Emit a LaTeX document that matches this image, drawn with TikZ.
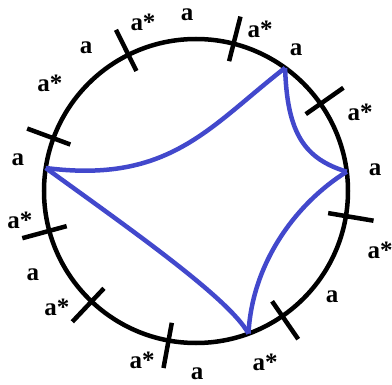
\documentclass[tikz,border=0pt]{standalone}
\usepackage{fontspec}
\setmainfont{Liberation Serif}
\usepackage{xcolor}
\definecolor{arcblue}{RGB}{66,72,204}
\usetikzlibrary{calc}

\begin{document}
\begin{tikzpicture}[
  x=1pt, y=1pt,
  font=\bfseries\fontsize{25}{25}\selectfont,
  rim/.style={draw=black, line width=4.5pt},
  tick/.style={draw=black, line width=4.5pt},
  arc/.style={draw=arcblue, line width=4.5pt, line join=miter},
  lab/.style={inner sep=0pt, anchor=center}
]
\useasboundingbox (0,0) rectangle (392,384);
\coordinate (O) at (196,193);

% circle with cut marks
\draw[rim] (O) circle (152);
\foreach \t in {350.5,35,75.7,116.4,159.7,195.2,226.6,259.6,304.6}
  \draw[tick] ($(O)+(\t:134)$) -- ($(O)+(\t:180)$);

% corners of the blue region
\coordinate (A) at ($(O)+(54.1:152)$);
\coordinate (B) at ($(O)+(171.3:152)$);
\coordinate (C) at ($(O)+(7.3:152)$);
\coordinate (D) at ($(O)+(-69.8:152)$);

\draw[arc] (B) .. controls (170,200) and (210,258) .. (A);
\draw[arc] (A) .. controls (287,250) and (305,225) .. (C);
\draw[arc] (C) .. controls (295,180) and (252,120) .. (D);
\draw[arc] (B) .. controls (130,155) and (230,85) .. (D);

% labels
\foreach \p/\txt [count=\i] in {
  {143,362}/a*, {187,369}/a, {260,355}/a*, {86,336}/a, {50,301}/a*,
  {296,334}/a, {360,272}/a*, {18,224}/a, {375,214}/a, {20,164}/a*,
  {33,109}/a, {57,77}/a*, {142,24}/a*, {197,10}/a, {265,22}/a*,
  {332,87}/a, {380,134}/a*}
  \node[lab] (lab\i) at (\p) {\txt};
\end{tikzpicture}
\end{document}
